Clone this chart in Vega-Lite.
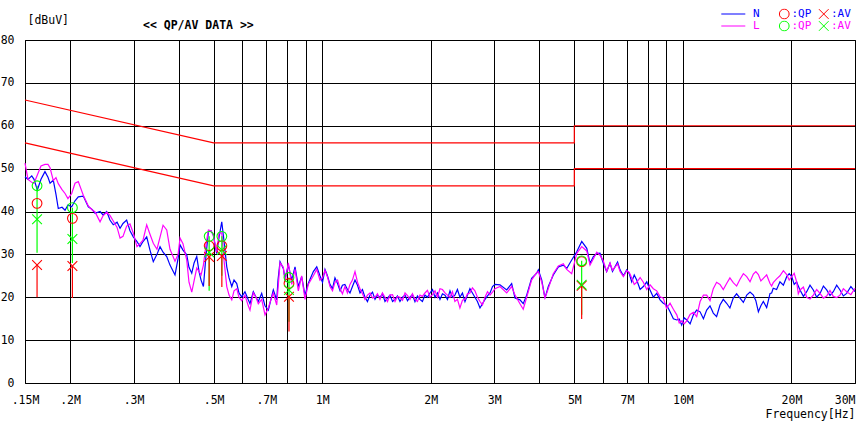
{
  "$schema": "https://vega.github.io/schema/vega-lite/v6.json",
  "width": 830,
  "height": 343,
  "autosize": "none",
  "padding": {"left": 25, "top": 40, "right": 8, "bottom": 42},
  "background": "white",
  "config": {
    "view": {"stroke": "black", "strokeWidth": 1},
    "font": "DejaVu Sans Mono"
  },
  "title": {
    "text": "<< QP/AV DATA >>",
    "anchor": "start",
    "frame": "group",
    "dx": 118,
    "offset": 0,
    "dy": 28.5,
    "baseline": "middle",
    "fontSize": 11.5,
    "fontWeight": "bold",
    "font": "DejaVu Sans Mono",
    "color": "black"
  },
  "datasets": {
    "limit": [
      {"kind": "QP", "i": 1, "f": 0.15, "v": 66},
      {"kind": "QP", "i": 2, "f": 0.5, "v": 56},
      {"kind": "QP", "i": 3, "f": 5, "v": 56},
      {"kind": "QP", "i": 4, "f": 5, "v": 60},
      {"kind": "QP", "i": 5, "f": 30, "v": 60},
      {"kind": "AV", "i": 1, "f": 0.15, "v": 56},
      {"kind": "AV", "i": 2, "f": 0.5, "v": 46},
      {"kind": "AV", "i": 3, "f": 5, "v": 46},
      {"kind": "AV", "i": 4, "f": 5, "v": 50},
      {"kind": "AV", "i": 5, "f": 30, "v": 50}
    ],
    "trace": [
      {"f": 0.150, "N": 48.1, "L": 51.3},
      {"f": 0.1529, "N": 47.5, "L": 47.5},
      {"f": 0.1566, "N": 48.3, "L": 46.8},
      {"f": 0.1589, "N": 47.5, "L": 46.6},
      {"f": 0.1623, "N": 45.0, "L": 48.5},
      {"f": 0.1661, "N": 47.5, "L": 50.6},
      {"f": 0.1704, "N": 49.3, "L": 51.0},
      {"f": 0.1737, "N": 48.0, "L": 51.0},
      {"f": 0.1760, "N": 46.6, "L": 50.2},
      {"f": 0.1797, "N": 47.3, "L": 47.2},
      {"f": 0.1828, "N": 44.0, "L": 47.9},
      {"f": 0.1855, "N": 40.7, "L": 46.5},
      {"f": 0.1900, "N": 41.0, "L": 45.1},
      {"f": 0.1937, "N": 40.3, "L": 44.2},
      {"f": 0.1973, "N": 41.5, "L": 43.0},
      {"f": 0.2021, "N": 41.1, "L": 44.2},
      {"f": 0.2064, "N": 42.5, "L": 46.6},
      {"f": 0.2108, "N": 43.4, "L": 47.0},
      {"f": 0.2176, "N": 43.6, "L": 43.8},
      {"f": 0.2247, "N": 41.1, "L": 41.3},
      {"f": 0.2301, "N": 40.5, "L": 40.4},
      {"f": 0.2346, "N": 39.6, "L": 39.9},
      {"f": 0.2422, "N": 40.0, "L": 37.6},
      {"f": 0.2468, "N": 39.2, "L": 39.0},
      {"f": 0.2527, "N": 40.0, "L": 39.8},
      {"f": 0.2580, "N": 38.0, "L": 39.1},
      {"f": 0.2635, "N": 36.9, "L": 37.8},
      {"f": 0.2700, "N": 37.5, "L": 36.3},
      {"f": 0.2752, "N": 36.1, "L": 33.8},
      {"f": 0.2804, "N": 37.2, "L": 34.2},
      {"f": 0.2870, "N": 38.0, "L": 36.6},
      {"f": 0.2932, "N": 35.5, "L": 37.1},
      {"f": 0.2994, "N": 34.1, "L": 35.0},
      {"f": 0.3066, "N": 33.0, "L": 31.8},
      {"f": 0.3125, "N": 31.8, "L": 32.5},
      {"f": 0.3186, "N": 33.0, "L": 33.3},
      {"f": 0.3262, "N": 34.1, "L": 36.9},
      {"f": 0.3331, "N": 31.0, "L": 34.7},
      {"f": 0.3402, "N": 28.3, "L": 32.6},
      {"f": 0.3483, "N": 30.0, "L": 31.2},
      {"f": 0.3552, "N": 31.8, "L": 34.0},
      {"f": 0.3621, "N": 30.5, "L": 36.8},
      {"f": 0.3707, "N": 29.5, "L": 35.7},
      {"f": 0.3785, "N": 27.5, "L": 31.2},
      {"f": 0.3908, "N": 25.2, "L": 28.4},
      {"f": 0.3985, "N": 29.0, "L": 30.0},
      {"f": 0.4036, "N": 32.2, "L": 33.8},
      {"f": 0.4112, "N": 31.0, "L": 32.5},
      {"f": 0.4211, "N": 29.9, "L": 28.7},
      {"f": 0.4273, "N": 27.0, "L": 23.5},
      {"f": 0.4349, "N": 25.6, "L": 21.2},
      {"f": 0.4414, "N": 28.0, "L": 23.8},
      {"f": 0.4490, "N": 29.5, "L": 26.8},
      {"f": 0.4556, "N": 26.0, "L": 26.0},
      {"f": 0.4615, "N": 24.0, "L": 25.2},
      {"f": 0.4685, "N": 22.5, "L": 27.5},
      {"f": 0.4766, "N": 30.0, "L": 32.5},
      {"f": 0.4837, "N": 35.3, "L": 35.7},
      {"f": 0.4917, "N": 35.5, "L": 35.5},
      {"f": 0.4990, "N": 34.5, "L": 34.5},
      {"f": 0.5100, "N": 30.2, "L": 30.5},
      {"f": 0.5177, "N": 34.0, "L": 35.0},
      {"f": 0.5267, "N": 37.6, "L": 35.0},
      {"f": 0.5345, "N": 33.0, "L": 28.5},
      {"f": 0.5438, "N": 27.1, "L": 22.5},
      {"f": 0.5518, "N": 24.5, "L": 20.5},
      {"f": 0.5615, "N": 22.5, "L": 19.4},
      {"f": 0.5696, "N": 24.0, "L": 21.5},
      {"f": 0.5796, "N": 23.2, "L": 22.0},
      {"f": 0.5878, "N": 21.0, "L": 20.0},
      {"f": 0.5981, "N": 20.1, "L": 19.2},
      {"f": 0.6108, "N": 21.3, "L": 20.5},
      {"f": 0.6239, "N": 19.4, "L": 18.0},
      {"f": 0.6307, "N": 18.5, "L": 17.0},
      {"f": 0.6442, "N": 21.3, "L": 21.0},
      {"f": 0.6554, "N": 20.0, "L": 20.0},
      {"f": 0.6651, "N": 19.0, "L": 18.5},
      {"f": 0.6797, "N": 20.9, "L": 19.5},
      {"f": 0.6942, "N": 18.0, "L": 15.9},
      {"f": 0.7090, "N": 17.0, "L": 17.5},
      {"f": 0.7211, "N": 19.5, "L": 19.5},
      {"f": 0.7320, "N": 21.7, "L": 21.0},
      {"f": 0.7481, "N": 19.4, "L": 18.2},
      {"f": 0.7543, "N": 24.0, "L": 22.0},
      {"f": 0.7640, "N": 28.3, "L": 28.0},
      {"f": 0.7803, "N": 26.7, "L": 27.0},
      {"f": 0.7887, "N": 24.4, "L": 23.5},
      {"f": 0.8056, "N": 27.5, "L": 28.0},
      {"f": 0.8232, "N": 24.0, "L": 23.0},
      {"f": 0.8408, "N": 27.1, "L": 26.5},
      {"f": 0.8587, "N": 22.5, "L": 21.5},
      {"f": 0.8772, "N": 24.8, "L": 25.0},
      {"f": 0.8960, "N": 20.5, "L": 19.5},
      {"f": 0.9149, "N": 23.2, "L": 23.0},
      {"f": 0.9451, "N": 26.0, "L": 25.0},
      {"f": 0.9658, "N": 27.1, "L": 26.5},
      {"f": 0.9859, "N": 25.0, "L": 24.0},
      {"f": 1.002, "N": 23.5, "L": 24.5},
      {"f": 1.018, "N": 26.5, "L": 26.3},
      {"f": 1.034, "N": 25.0, "L": 24.8},
      {"f": 1.051, "N": 23.0, "L": 22.5},
      {"f": 1.068, "N": 22.0, "L": 21.5},
      {"f": 1.085, "N": 24.5, "L": 23.5},
      {"f": 1.103, "N": 23.2, "L": 24.0},
      {"f": 1.121, "N": 21.5, "L": 22.0},
      {"f": 1.138, "N": 22.8, "L": 20.8},
      {"f": 1.156, "N": 23.0, "L": 22.5},
      {"f": 1.175, "N": 21.8, "L": 21.0},
      {"f": 1.194, "N": 21.0, "L": 23.0},
      {"f": 1.213, "N": 22.5, "L": 24.0},
      {"f": 1.233, "N": 24.0, "L": 26.0},
      {"f": 1.253, "N": 22.8, "L": 23.5},
      {"f": 1.273, "N": 21.0, "L": 22.0},
      {"f": 1.293, "N": 21.8, "L": 20.8},
      {"f": 1.314, "N": 20.0, "L": 19.5},
      {"f": 1.335, "N": 19.0, "L": 20.5},
      {"f": 1.357, "N": 20.5, "L": 21.0},
      {"f": 1.379, "N": 21.2, "L": 19.8},
      {"f": 1.401, "N": 19.5, "L": 20.0},
      {"f": 1.423, "N": 20.5, "L": 20.8},
      {"f": 1.446, "N": 20.0, "L": 19.5},
      {"f": 1.469, "N": 20.8, "L": 21.0},
      {"f": 1.493, "N": 19.0, "L": 20.0},
      {"f": 1.517, "N": 19.8, "L": 19.0},
      {"f": 1.542, "N": 20.5, "L": 20.5},
      {"f": 1.567, "N": 19.0, "L": 20.6},
      {"f": 1.592, "N": 19.5, "L": 19.0},
      {"f": 1.617, "N": 20.3, "L": 20.2},
      {"f": 1.643, "N": 19.0, "L": 20.0},
      {"f": 1.670, "N": 20.0, "L": 19.3},
      {"f": 1.697, "N": 20.5, "L": 21.0},
      {"f": 1.724, "N": 19.2, "L": 20.4},
      {"f": 1.751, "N": 20.0, "L": 19.5},
      {"f": 1.779, "N": 20.6, "L": 20.8},
      {"f": 1.808, "N": 19.0, "L": 19.5},
      {"f": 1.837, "N": 20.3, "L": 19.0},
      {"f": 1.866, "N": 19.5, "L": 20.5},
      {"f": 1.896, "N": 19.0, "L": 20.2},
      {"f": 1.927, "N": 20.5, "L": 21.0},
      {"f": 1.958, "N": 20.0, "L": 21.6},
      {"f": 1.990, "N": 21.0, "L": 20.0},
      {"f": 2.022, "N": 21.8, "L": 20.6},
      {"f": 2.055, "N": 20.0, "L": 21.5},
      {"f": 2.088, "N": 21.0, "L": 20.0},
      {"f": 2.121, "N": 19.5, "L": 22.0},
      {"f": 2.155, "N": 20.8, "L": 21.8},
      {"f": 2.190, "N": 20.5, "L": 21.0},
      {"f": 2.225, "N": 19.5, "L": 20.5},
      {"f": 2.261, "N": 21.5, "L": 20.0},
      {"f": 2.297, "N": 20.0, "L": 21.3},
      {"f": 2.333, "N": 20.5, "L": 19.0},
      {"f": 2.371, "N": 21.8, "L": 19.5},
      {"f": 2.409, "N": 20.0, "L": 17.5},
      {"f": 2.448, "N": 21.0, "L": 19.3},
      {"f": 2.488, "N": 19.0, "L": 19.5},
      {"f": 2.528, "N": 20.5, "L": 20.8},
      {"f": 2.568, "N": 22.0, "L": 21.0},
      {"f": 2.609, "N": 21.0, "L": 22.2},
      {"f": 2.651, "N": 20.0, "L": 21.5},
      {"f": 2.694, "N": 19.0, "L": 20.0},
      {"f": 2.738, "N": 17.5, "L": 19.0},
      {"f": 2.782, "N": 18.5, "L": 18.2},
      {"f": 2.827, "N": 19.5, "L": 20.0},
      {"f": 2.873, "N": 20.3, "L": 21.3},
      {"f": 2.919, "N": 21.0, "L": 20.5},
      {"f": 2.966, "N": 22.5, "L": 21.2},
      {"f": 3.013, "N": 23.0, "L": 22.0},
      {"f": 3.111, "N": 22.9, "L": 22.5},
      {"f": 3.247, "N": 21.7, "L": 21.0},
      {"f": 3.352, "N": 23.2, "L": 22.5},
      {"f": 3.424, "N": 19.8, "L": 20.5},
      {"f": 3.534, "N": 19.4, "L": 18.5},
      {"f": 3.609, "N": 18.5, "L": 17.2},
      {"f": 3.689, "N": 20.5, "L": 20.0},
      {"f": 3.807, "N": 24.4, "L": 24.0},
      {"f": 3.933, "N": 25.6, "L": 25.8},
      {"f": 3.974, "N": 26.4, "L": 26.0},
      {"f": 4.062, "N": 24.0, "L": 23.5},
      {"f": 4.146, "N": 19.8, "L": 19.8},
      {"f": 4.235, "N": 22.5, "L": 22.0},
      {"f": 4.372, "N": 25.2, "L": 25.5},
      {"f": 4.516, "N": 27.1, "L": 27.3},
      {"f": 4.662, "N": 27.5, "L": 27.8},
      {"f": 4.763, "N": 26.7, "L": 26.5},
      {"f": 4.917, "N": 28.7, "L": 25.5},
      {"f": 5.078, "N": 30.6, "L": 30.2},
      {"f": 5.243, "N": 33.0, "L": 31.8},
      {"f": 5.414, "N": 31.4, "L": 30.8},
      {"f": 5.528, "N": 27.9, "L": 27.5},
      {"f": 5.647, "N": 29.5, "L": 29.0},
      {"f": 5.770, "N": 30.2, "L": 30.5},
      {"f": 5.890, "N": 30.3, "L": 29.8},
      {"f": 6.015, "N": 28.0, "L": 28.5},
      {"f": 6.147, "N": 26.0, "L": 26.0},
      {"f": 6.279, "N": 27.9, "L": 28.0},
      {"f": 6.380, "N": 26.0, "L": 26.3},
      {"f": 6.483, "N": 27.1, "L": 27.0},
      {"f": 6.590, "N": 28.2, "L": 27.8},
      {"f": 6.694, "N": 26.4, "L": 26.0},
      {"f": 6.840, "N": 25.0, "L": 24.8},
      {"f": 6.987, "N": 26.4, "L": 26.2},
      {"f": 7.100, "N": 25.5, "L": 25.8},
      {"f": 7.213, "N": 23.6, "L": 24.5},
      {"f": 7.330, "N": 25.2, "L": 23.0},
      {"f": 7.447, "N": 24.0, "L": 23.5},
      {"f": 7.610, "N": 21.8, "L": 24.6},
      {"f": 7.768, "N": 22.5, "L": 23.5},
      {"f": 7.940, "N": 23.6, "L": 21.8},
      {"f": 8.108, "N": 21.7, "L": 22.9},
      {"f": 8.280, "N": 20.0, "L": 22.0},
      {"f": 8.462, "N": 20.9, "L": 21.5},
      {"f": 8.644, "N": 19.4, "L": 20.1},
      {"f": 8.824, "N": 18.6, "L": 19.8},
      {"f": 9.010, "N": 18.2, "L": 17.4},
      {"f": 9.213, "N": 16.6, "L": 18.6},
      {"f": 9.410, "N": 15.0, "L": 17.2},
      {"f": 9.616, "N": 14.7, "L": 15.9},
      {"f": 9.770, "N": 14.9, "L": 14.0},
      {"f": 9.923, "N": 13.5, "L": 14.5},
      {"f": 10.08, "N": 15.2, "L": 13.8},
      {"f": 10.25, "N": 14.7, "L": 14.5},
      {"f": 10.47, "N": 13.8, "L": 16.0},
      {"f": 10.69, "N": 15.9, "L": 16.5},
      {"f": 10.92, "N": 17.0, "L": 15.5},
      {"f": 11.16, "N": 16.6, "L": 19.0},
      {"f": 11.40, "N": 15.0, "L": 20.5},
      {"f": 11.64, "N": 17.0, "L": 20.5},
      {"f": 11.89, "N": 18.0, "L": 19.2},
      {"f": 12.14, "N": 16.3, "L": 22.0},
      {"f": 12.40, "N": 15.5, "L": 23.5},
      {"f": 12.67, "N": 18.2, "L": 23.0},
      {"f": 12.94, "N": 19.5, "L": 21.8},
      {"f": 13.22, "N": 18.6, "L": 23.2},
      {"f": 13.50, "N": 17.5, "L": 24.5},
      {"f": 13.79, "N": 19.8, "L": 23.4},
      {"f": 14.09, "N": 20.8, "L": 22.6},
      {"f": 14.40, "N": 19.8, "L": 24.2},
      {"f": 14.71, "N": 18.8, "L": 25.5},
      {"f": 15.03, "N": 20.5, "L": 24.8},
      {"f": 15.35, "N": 21.2, "L": 23.6},
      {"f": 15.68, "N": 20.5, "L": 25.4},
      {"f": 15.93, "N": 19.2, "L": 26.0},
      {"f": 16.19, "N": 16.6, "L": 25.3},
      {"f": 16.45, "N": 18.0, "L": 23.8},
      {"f": 16.71, "N": 19.0, "L": 24.4},
      {"f": 17.07, "N": 17.6, "L": 25.2},
      {"f": 17.44, "N": 20.9, "L": 23.2},
      {"f": 17.62, "N": 21.0, "L": 22.6},
      {"f": 17.80, "N": 22.1, "L": 23.4},
      {"f": 18.19, "N": 21.8, "L": 24.3},
      {"f": 18.58, "N": 23.6, "L": 25.0},
      {"f": 18.99, "N": 22.8, "L": 26.2},
      {"f": 19.40, "N": 24.8, "L": 25.3},
      {"f": 19.71, "N": 25.5, "L": 24.0},
      {"f": 20.03, "N": 24.8, "L": 24.8},
      {"f": 20.35, "N": 23.0, "L": 25.6},
      {"f": 20.67, "N": 23.6, "L": 23.6},
      {"f": 20.89, "N": 22.6, "L": 20.8},
      {"f": 21.12, "N": 21.7, "L": 21.7},
      {"f": 21.58, "N": 20.2, "L": 22.4},
      {"f": 22.04, "N": 21.3, "L": 20.0},
      {"f": 22.51, "N": 22.8, "L": 19.6},
      {"f": 22.99, "N": 21.7, "L": 20.5},
      {"f": 23.49, "N": 20.0, "L": 21.8},
      {"f": 24.00, "N": 20.9, "L": 20.9},
      {"f": 24.52, "N": 22.6, "L": 19.8},
      {"f": 25.04, "N": 21.7, "L": 20.3},
      {"f": 25.57, "N": 20.4, "L": 21.6},
      {"f": 26.12, "N": 21.3, "L": 20.2},
      {"f": 26.69, "N": 22.8, "L": 19.9},
      {"f": 27.26, "N": 21.7, "L": 20.5},
      {"f": 27.85, "N": 20.3, "L": 22.0},
      {"f": 28.45, "N": 20.9, "L": 21.3},
      {"f": 29.22, "N": 22.5, "L": 20.6},
      {"f": 30.00, "N": 21.3, "L": 22.1}
    ],
    "stem": [
      {"f": 0.162, "series": "L", "top": 46.0, "bottom": 30.4},
      {"f": 0.162, "series": "N", "top": 27.5, "bottom": 20.0},
      {"f": 0.203, "series": "L", "top": 40.9, "bottom": 28.0},
      {"f": 0.203, "series": "N", "top": 27.3, "bottom": 19.8},
      {"f": 0.486, "series": "L", "top": 34.2, "bottom": 21.5},
      {"f": 0.486, "series": "N", "top": 29.4, "bottom": 22.6},
      {"f": 0.527, "series": "L", "top": 34.2, "bottom": 25.0},
      {"f": 0.527, "series": "N", "top": 29.6, "bottom": 22.4},
      {"f": 0.809, "series": "L", "top": 24.6, "bottom": 14.3},
      {"f": 0.809, "series": "N", "top": 20.1, "bottom": 12.0},
      {"f": 5.24, "series": "L", "top": 28.5, "bottom": 15.9},
      {"f": 5.24, "series": "N", "top": 22.7, "bottom": 14.9}
    ],
    "marker": [
      {"f": 0.162, "key": "N:QP", "v": 41.9},
      {"f": 0.162, "key": "N:AV", "v": 27.5},
      {"f": 0.162, "key": "L:QP", "v": 46.0},
      {"f": 0.162, "key": "L:AV", "v": 38.2},
      {"f": 0.203, "key": "N:QP", "v": 38.4},
      {"f": 0.203, "key": "N:AV", "v": 27.3},
      {"f": 0.203, "key": "L:QP", "v": 40.9},
      {"f": 0.203, "key": "L:AV", "v": 33.6},
      {"f": 0.486, "key": "N:QP", "v": 32.0},
      {"f": 0.486, "key": "N:AV", "v": 29.4},
      {"f": 0.486, "key": "L:QP", "v": 34.2},
      {"f": 0.486, "key": "L:AV", "v": 30.5},
      {"f": 0.527, "key": "N:QP", "v": 32.0},
      {"f": 0.527, "key": "N:AV", "v": 29.6},
      {"f": 0.527, "key": "L:QP", "v": 34.2},
      {"f": 0.527, "key": "L:AV", "v": 31.0},
      {"f": 0.809, "key": "N:QP", "v": 23.2},
      {"f": 0.809, "key": "N:AV", "v": 20.1},
      {"f": 0.809, "key": "L:QP", "v": 24.6},
      {"f": 0.809, "key": "L:AV", "v": 21.7},
      {"f": 5.24, "key": "N:QP", "v": 28.3},
      {"f": 5.24, "key": "N:AV", "v": 22.7},
      {"f": 5.24, "key": "L:QP", "v": 28.5},
      {"f": 5.24, "key": "L:AV", "v": 22.9}
    ]
  },
  "layer": [
    {
      "data": {"name": "limit"},
      "mark": {"type": "line", "color": "#ff0000", "strokeWidth": 1.2},
      "encoding": {
        "x": {
          "field": "f",
          "type": "quantitative",
          "scale": {"type": "log", "domain": [0.15, 30], "nice": false, "zero": false},
          "axis": {
            "values": [0.15, 0.2, 0.3, 0.4, 0.5, 0.6, 0.7, 0.8, 0.9, 1, 2, 3, 4, 5, 6, 7, 8, 9, 10, 20, 30],
            "labelExpr": "indexof([0.15, 0.2, 0.3, 0.5, 0.7, 1, 2, 3, 5, 7, 10, 20, 30], datum.value) >= 0 ? (datum.value < 1 ? replace(format(datum.value, '~g'), '0.', '.') : format(datum.value, '~g')) + 'M' : ''",
            "labelAlign": {"condition": {"test": "datum.value >= 30", "value": "right"}, "value": "center"},
            "grid": true,
            "gridColor": "#000000",
            "gridWidth": 1,
            "gridOpacity": 1,
            "ticks": false,
            "domain": false,
            "labelPadding": 11,
            "labelFont": "DejaVu Sans Mono",
            "labelFontSize": 11.5,
            "labelColor": "#000000",
            "labelOverlap": false,
            "labelFlush": false,
            "labelBound": false,
            "title": "Frequency[Hz]",
            "titleFont": "DejaVu Sans Mono",
            "titleFontSize": 11.5,
            "titleFontWeight": "normal",
            "titleColor": "#000000",
            "titleX": 830,
            "titleY": 31,
            "titleAlign": "right",
            "titleBaseline": "middle"
          }
        },
        "y": {
          "field": "v",
          "type": "quantitative",
          "scale": {"domain": [0, 80], "nice": false, "zero": false},
          "axis": {
            "values": [0, 10, 20, 30, 40, 50, 60, 70, 80],
            "grid": true,
            "gridColor": "#000000",
            "gridWidth": 1,
            "gridOpacity": 1,
            "ticks": false,
            "domain": false,
            "labelPadding": 11,
            "labelFont": "DejaVu Sans Mono",
            "labelFontSize": 11.5,
            "labelColor": "#000000",
            "labelOverlap": false,
            "labelFlush": false,
            "title": "[dBuV]",
            "titleFont": "DejaVu Sans Mono",
            "titleFontSize": 11.5,
            "titleFontWeight": "normal",
            "titleColor": "#000000",
            "titleAngle": 0,
            "titleX": 2,
            "titleY": -20,
            "titleAlign": "left",
            "titleBaseline": "middle"
          }
        },
        "detail": {"field": "kind", "type": "nominal"},
        "order": {"field": "i", "type": "quantitative"}
      }
    },
    {
      "data": {"name": "trace"},
      "transform": [{"fold": ["N", "L"], "as": ["series", "val"]}],
      "mark": {"type": "line", "strokeWidth": 1.2},
      "encoding": {
        "x": {"field": "f", "type": "quantitative"},
        "y": {"field": "val", "type": "quantitative"},
        "stroke": {
          "field": "series",
          "type": "nominal",
          "scale": {"domain": ["N", "L"], "range": ["#0000ff", "#ff00ff"]},
          "legend": {
            "orient": "none",
            "legendX": 695.3,
            "legendY": -31.5,
            "title": null,
            "symbolType": "stroke",
            "symbolSize": 576,
            "symbolStrokeWidth": 1.2,
            "clipHeight": 11,
            "labelOffset": 6.7,
            "rowPadding": 0,
            "padding": 0,
            "labelFont": "DejaVu Sans Mono",
            "labelFontSize": 11,
            "labelColor": {"expr": "datum.value == 'N' ? '#0000ff' : '#ff00ff'"}
          }
        }
      }
    },
    {
      "data": {"name": "stem"},
      "transform": [{"filter": "datum.series == 'L'"}],
      "mark": {"type": "rule", "color": "#00ff00", "strokeWidth": 1.2},
      "encoding": {
        "x": {"field": "f", "type": "quantitative"},
        "y": {"field": "top", "type": "quantitative"},
        "y2": {"field": "bottom"}
      }
    },
    {
      "data": {"name": "stem"},
      "transform": [{"filter": "datum.series == 'N'"}],
      "mark": {"type": "rule", "color": "#ff0000", "strokeWidth": 1.2},
      "encoding": {
        "x": {"field": "f", "type": "quantitative"},
        "y": {"field": "top", "type": "quantitative"},
        "y2": {"field": "bottom"}
      }
    },
    {
      "data": {"name": "marker"},
      "mark": {"type": "point", "filled": false, "size": 95, "strokeWidth": 1.1, "opacity": 1},
      "encoding": {
        "x": {"field": "f", "type": "quantitative"},
        "y": {"field": "v", "type": "quantitative"},
        "color": {
          "field": "key",
          "type": "nominal",
          "scale": {"domain": ["N:QP", "L:QP", "N:AV", "L:AV"], "range": ["#ff0000", "#00ff00", "#ff0000", "#00ff00"]},
          "legend": {
            "orient": "none",
            "legendX": 753.75,
            "legendY": -31.5,
            "title": null,
            "columns": 2,
            "symbolSize": 95,
            "symbolStrokeWidth": 1,
            "clipHeight": 11,
            "labelOffset": 1.75,
            "columnPadding": 6.5,
            "rowPadding": 0,
            "padding": 0,
            "labelFont": "DejaVu Sans Mono",
            "labelFontSize": 11,
            "labelExpr": "slice(datum.label, 1)",
            "labelColor": {"expr": "slice(datum.value, 0, 1) == 'N' ? '#0000ff' : '#ff00ff'"}
          }
        },
        "shape": {
          "field": "key",
          "type": "nominal",
          "scale": {"domain": ["N:QP", "L:QP", "N:AV", "L:AV"], "range": ["circle", "circle", "M-1,-1L1,1M-1,1L1,-1", "M-1,-1L1,1M-1,1L1,-1"]}
        }
      }
    }
  ]
}
